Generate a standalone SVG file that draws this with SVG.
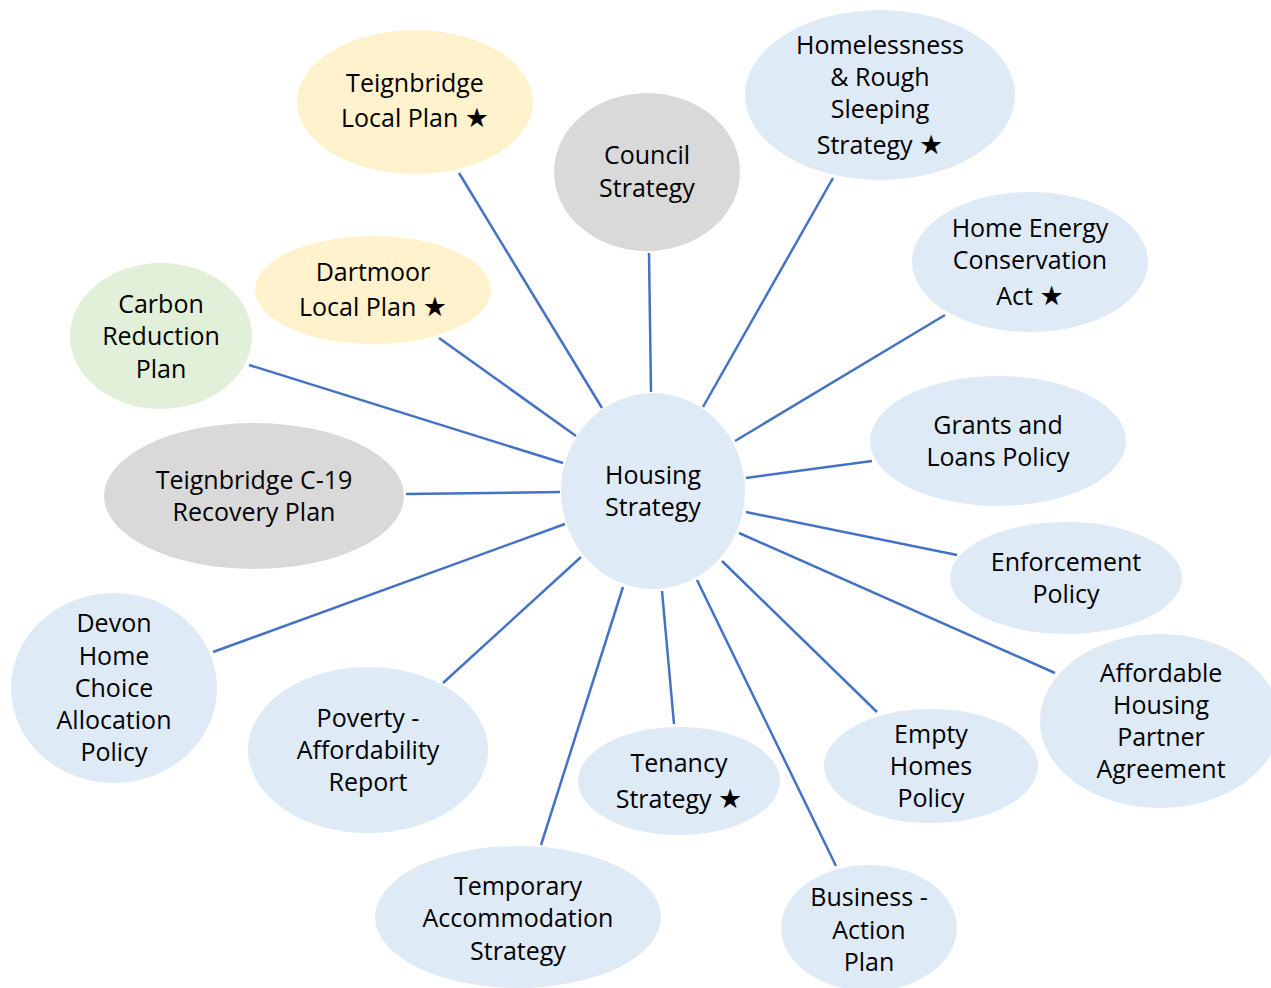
<svg xmlns="http://www.w3.org/2000/svg" width="1271" height="988" viewBox="0 0 1271 988">
<style>
.b{fill:#DEEBF7}.y{fill:#FFF2CC}.g{fill:#E2F0D9}.d{fill:#D9D9D9}
text{font-family:"Open Sans","Liberation Sans",sans-serif;font-size:25px;fill:#000;text-anchor:middle}
.s{font-family:"DejaVu Sans",sans-serif;font-size:27px}
#connectors line{stroke:#4472C4;stroke-width:2.5}
</style>
<rect width="1271" height="988" fill="#fff"/>
<g id="connectors">
<line x1="459" y1="173" x2="602" y2="408"/>
<line x1="649" y1="253" x2="651" y2="392"/>
<line x1="833" y1="178" x2="703" y2="407"/>
<line x1="945" y1="315" x2="735" y2="441"/>
<line x1="872" y1="461" x2="746" y2="478"/>
<line x1="957" y1="555" x2="746" y2="512"/>
<line x1="1055" y1="673" x2="739" y2="533"/>
<line x1="877" y1="712" x2="722" y2="561"/>
<line x1="836" y1="866" x2="697" y2="580"/>
<line x1="674" y1="724" x2="662" y2="591"/>
<line x1="541" y1="845" x2="623" y2="587"/>
<line x1="443" y1="683" x2="581" y2="557"/>
<line x1="213" y1="652" x2="565" y2="524"/>
<line x1="406" y1="494" x2="560" y2="492"/>
<line x1="249" y1="365" x2="563" y2="463"/>
<line x1="439" y1="338" x2="576" y2="436"/>
</g>
<g id="teignbridge-local-plan"><ellipse class="y" cx="415" cy="102" rx="118" ry="72"/><text x="415" y="92">Teignbridge</text><text x="415" y="127">Local Plan <tspan class="s">★</tspan></text></g>
<g id="council-strategy"><ellipse class="d" cx="647" cy="172" rx="93" ry="79"/><text x="647" y="164">Council</text><text x="647" y="197">Strategy</text></g>
<g id="homelessness"><ellipse class="b" cx="880" cy="95" rx="135" ry="85"/><text x="880" y="54">Homelessness</text><text x="880" y="86">&amp; Rough</text><text x="880" y="118">Sleeping</text><text x="880" y="154">Strategy <tspan class="s">★</tspan></text></g>
<g id="home-energy"><ellipse class="b" cx="1030" cy="262" rx="118" ry="70"/><text x="1030" y="237">Home Energy</text><text x="1030" y="269">Conservation</text><text x="1030" y="305">Act <tspan class="s">★</tspan></text></g>
<g id="grants-loans"><ellipse class="b" cx="998" cy="441" rx="128" ry="65"/><text x="998" y="434">Grants and</text><text x="998" y="466">Loans Policy</text></g>
<g id="enforcement"><ellipse class="b" cx="1066" cy="578" rx="116" ry="56"/><text x="1066" y="571">Enforcement</text><text x="1066" y="603">Policy</text></g>
<g id="affordable-housing"><ellipse class="b" cx="1160" cy="721" rx="120" ry="87"/><text x="1161" y="682">Affordable</text><text x="1161" y="714">Housing</text><text x="1161" y="746">Partner</text><text x="1161" y="778">Agreement</text></g>
<g id="empty-homes"><ellipse class="b" cx="931" cy="766" rx="107" ry="57"/><text x="931" y="743">Empty</text><text x="931" y="775">Homes</text><text x="931" y="807">Policy</text></g>
<g id="business-action"><ellipse class="b" cx="869" cy="928" rx="88" ry="63"/><text x="869" y="906">Business -</text><text x="869" y="939">Action</text><text x="869" y="971">Plan</text></g>
<g id="tenancy"><ellipse class="b" cx="679" cy="781" rx="101" ry="54"/><text x="679" y="772">Tenancy</text><text x="679" y="808">Strategy <tspan class="s">★</tspan></text></g>
<g id="temporary-accommodation"><ellipse class="b" cx="518" cy="917" rx="143" ry="71"/><text x="518" y="895">Temporary</text><text x="518" y="927">Accommodation</text><text x="518" y="960">Strategy</text></g>
<g id="poverty"><ellipse class="b" cx="368" cy="750" rx="120" ry="83"/><text x="368" y="727">Poverty -</text><text x="368" y="759">Affordability</text><text x="368" y="791">Report</text></g>
<g id="devon-home-choice"><ellipse class="b" cx="114" cy="688" rx="103" ry="95"/><text x="114" y="632">Devon</text><text x="114" y="665">Home</text><text x="114" y="697">Choice</text><text x="114" y="729">Allocation</text><text x="114" y="761">Policy</text></g>
<g id="c19-recovery"><ellipse class="d" cx="254" cy="496" rx="150" ry="73"/><text x="254" y="489">Teignbridge C-19</text><text x="254" y="521">Recovery Plan</text></g>
<g id="carbon-reduction"><ellipse class="g" cx="161" cy="336" rx="91" ry="73"/><text x="161" y="313">Carbon</text><text x="161" y="345">Reduction</text><text x="161" y="378">Plan</text></g>
<g id="dartmoor-local-plan"><ellipse class="y" cx="373" cy="290" rx="118" ry="54"/><text x="373" y="281">Dartmoor</text><text x="373" y="316">Local Plan <tspan class="s">★</tspan></text></g>
<g id="housing-strategy"><ellipse class="b" cx="653" cy="491" rx="92" ry="98"/><text x="653" y="484">Housing</text><text x="653" y="516">Strategy</text></g>
</svg>
